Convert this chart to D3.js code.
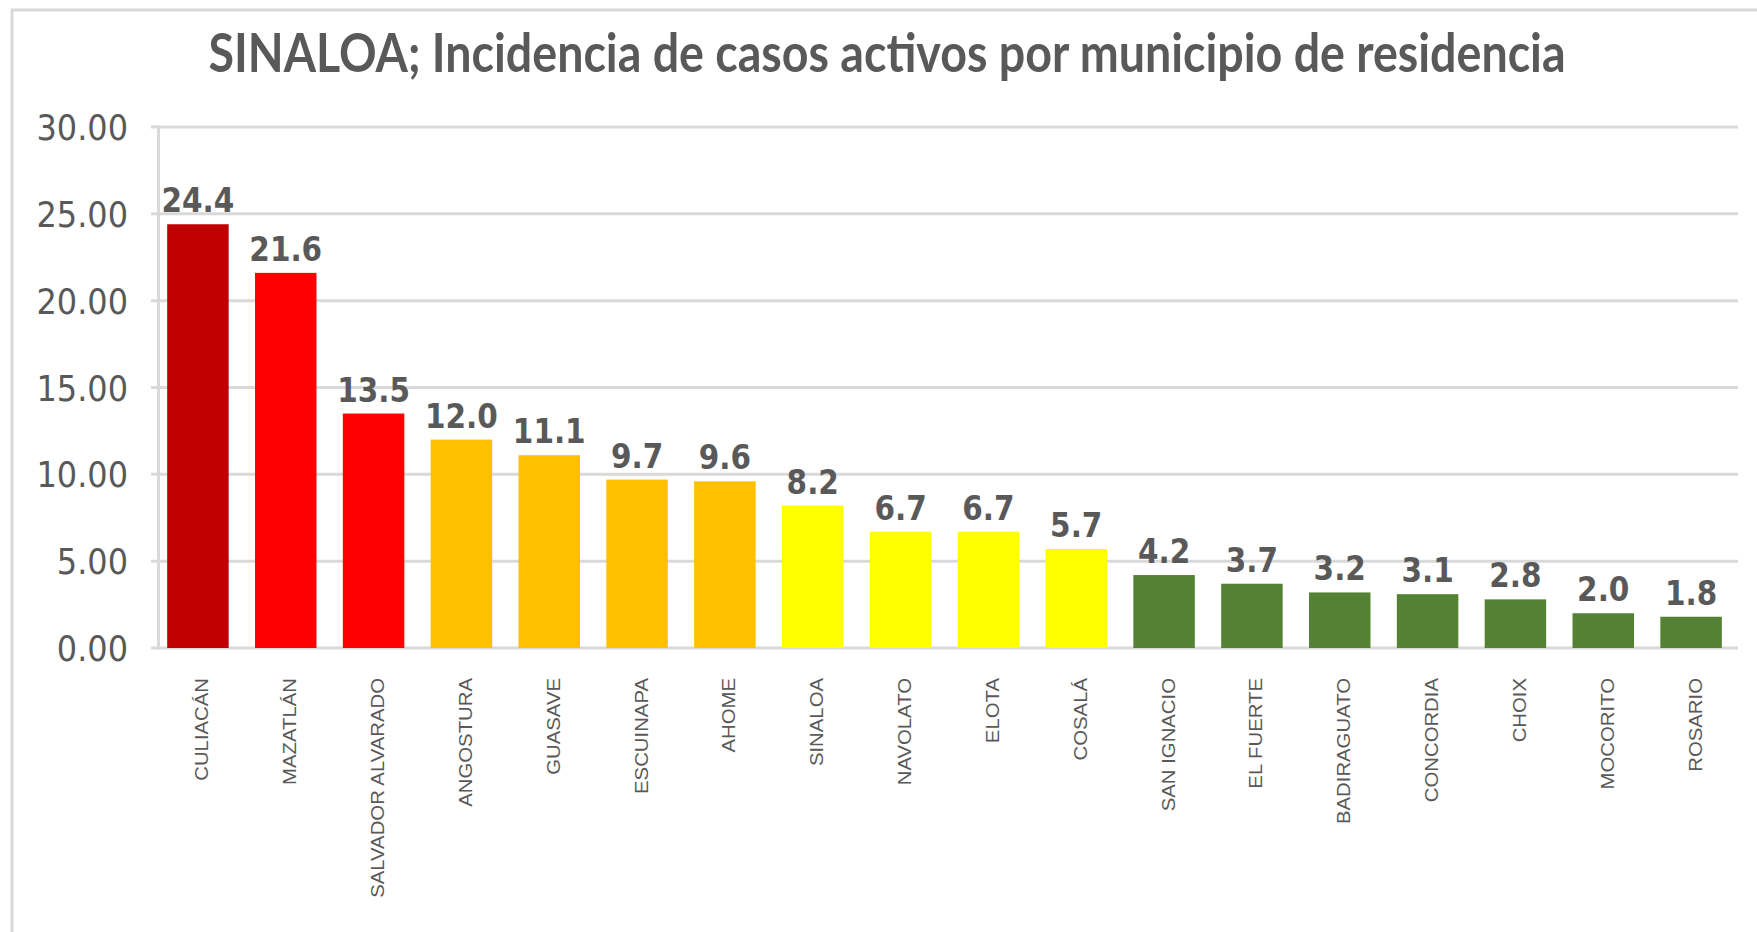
<!DOCTYPE html>
<html>
<head>
<meta charset="utf-8">
<script src="https://cdn.jsdelivr.net/npm/d3@7"></script>
<style>
  html, body { margin: 0; padding: 0; background: #fff; }
  svg { display: block; }
</style>
</head>
<body>
<svg id="chart" width="1757" height="932"></svg>
<script>
// ---- data ----
const title = "SINALOA; Incidencia de casos activos por municipio de residencia";
const categories = ["CULIACÁN","MAZATLÁN","SALVADOR ALVARADO","ANGOSTURA","GUASAVE","ESCUINAPA","AHOME","SINALOA","NAVOLATO","ELOTA","COSALÁ","SAN IGNACIO","EL FUERTE","BADIRAGUATO","CONCORDIA","CHOIX","MOCORITO","ROSARIO"];
const values = [24.4, 21.6, 13.5, 12.0, 11.1, 9.7, 9.6, 8.2, 6.7, 6.7, 5.7, 4.2, 3.7, 3.2, 3.1, 2.8, 2.0, 1.8];
const levels = ["muy alto","alto","alto","medio","medio","medio","medio","moderado","moderado","moderado","moderado","bajo","bajo","bajo","bajo","bajo","bajo","bajo"];
const yTicks = [0, 5, 10, 15, 20, 25, 30];

// ---- styles / layout ----
const levelColor = d3.scaleOrdinal()
  .domain(["muy alto","alto","medio","moderado","bajo"])
  .range(["#C00000","#FF0000","#FFC000","#FFFF00","#548235"]);
const SY = 1.13;           // vertical stretch of text in the reference
const textColor = "#595959";
const gridColor = "#d9d9d9";
const plot = {left: 157, right: 1738, top: 127, bottom: 648};

const svg = d3.select("#chart");

// outer chart border
svg.append("rect")
  .attr("x", 12).attr("y", 10)
  .attr("width", 1800).attr("height", 1000)
  .attr("fill", "none").attr("stroke", gridColor).attr("stroke-width", 3);

const x = d3.scaleBand().domain(categories).range([154, 1735]).paddingInner(0.3).paddingOuter(0.15);
const y = d3.scaleLinear().domain([0, 30]).range([plot.bottom, plot.top]);

// gridlines
svg.append("g").selectAll("line").data(yTicks).join("line")
  .attr("x1", plot.left - 6).attr("x2", plot.right)
  .attr("y1", d => y(d)).attr("y2", d => y(d))
  .attr("stroke", gridColor).attr("stroke-width", 3);
// y axis line
svg.append("line")
  .attr("x1", plot.left + 1.5).attr("x2", plot.left + 1.5)
  .attr("y1", y(30) - 1.5).attr("y2", y(0) + 1.5)
  .attr("stroke", gridColor).attr("stroke-width", 3);

// y tick labels
svg.append("g").selectAll("g").data(yTicks).join("g")
  .attr("transform", d => `translate(128,${y(d)}) scale(1,${SY})`)
  .append("text")
  .attr("text-anchor", "end").attr("dy", "0.36em")
  .attr("font-family", "DejaVu Sans").attr("font-size", 32)
  .attr("fill", textColor)
  .text(d => d3.format(".2f")(d));

// bars
svg.append("g").selectAll("rect").data(categories).join("rect")
  .attr("x", d => x(d))
  .attr("width", x.bandwidth())
  .attr("y", (d, i) => y(values[i]))
  .attr("height", (d, i) => y(0) - y(values[i]))
  .attr("fill", (d, i) => levelColor(levels[i]));

// value labels
svg.append("g").selectAll("g").data(categories).join("g")
  .attr("transform", (d, i) => `translate(${x(d) + x.bandwidth() / 2},${y(values[i]) - 12}) scale(1,${SY})`)
  .append("text")
  .attr("text-anchor", "middle")
  .attr("font-family", "DejaVu Sans").attr("font-weight", "bold").attr("font-size", 29.5)
  .attr("fill", textColor)
  .text((d, i) => d3.format(".1f")(values[i]));

// category labels (rotated)
svg.append("g").selectAll("g").data(categories).join("g")
  .attr("transform", d => `translate(${x(d) + x.bandwidth() / 2 + 4},678) scale(1,${SY}) rotate(-90)`)
  .append("text")
  .attr("text-anchor", "end").attr("dy", "0.36em")
  .attr("font-family", "Liberation Sans").attr("font-size", 18)
  .attr("fill", textColor)
  .text(d => d);

// title, fitted to reference width
const tg = svg.append("g").attr("transform", `translate(887,72) scale(1,${SY})`);
const tt = tg.append("text")
  .attr("text-anchor", "middle")
  .attr("font-family", "Lato").attr("font-weight", "bold").attr("font-size", 40)
  .attr("fill", textColor)
  .text(title);
const w = tt.node().getComputedTextLength();
tt.attr("font-size", 40 * 1357 / w);
</script>
</body>
</html>
